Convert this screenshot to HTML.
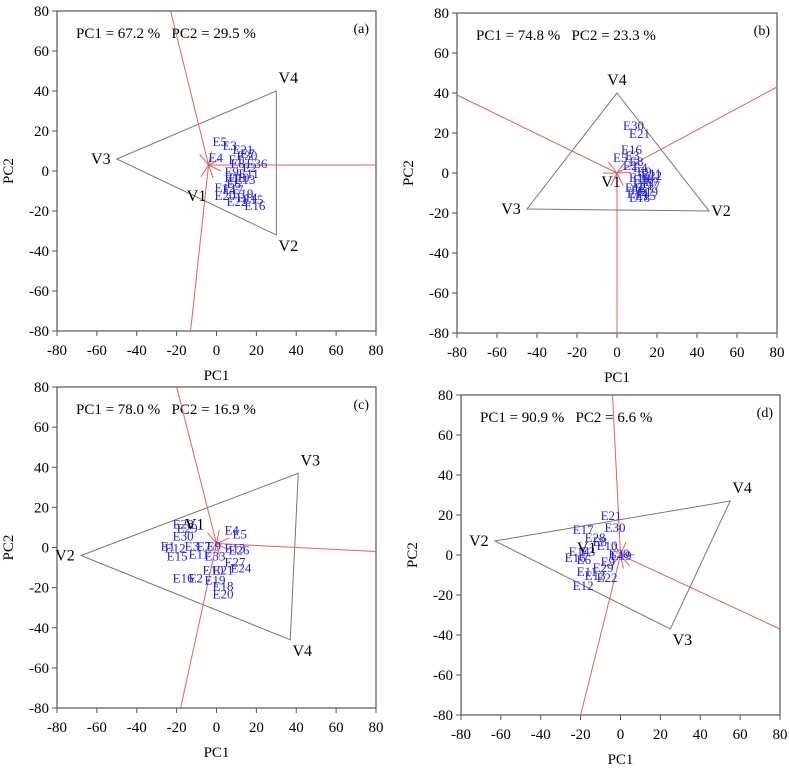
<!DOCTYPE html>
<html><head><meta charset="utf-8"><style>
body{margin:0;background:#fff;}
svg{display:block;font-family:"Liberation Serif",serif;}
</style></head><body>
<svg id="fig" width="789" height="770"></svg>
<script>
// panel frames (pixel geometry, not data)
const frames=[{x0:57,x1:376,y0:11,y1:331,tag:"(a)"},{x0:457,x1:777,y0:13,y1:333,tag:"(b)"},{x0:57,x1:376,y0:387,y1:708,tag:"(c)"},{x0:461,x1:780,y0:395,y1:715,tag:"(d)"}];
const ticks=[-80,-60,-40,-20,0,20,40,60,80];
const varianceText=["PC1 = 67.2 %   PC2 = 29.5 %","PC1 = 74.8 %   PC2 = 23.3 %","PC1 = 78.0 %   PC2 = 16.9 %","PC1 = 90.9 %   PC2 = 6.6 %"];
// vertices of polygons (PC1, PC2)
const polyX=[[-50,30,30],[0,46,-45],[41,37,-68],[55,25,-63]];
const polyY=[[6,40,-32],[40,-19,-18],[37,-46,-4],[27,-37,7]];
const polyNames=[["V3","V4","V2"],["V4","V2","V3"],["V3","V4","V2"],["V4","V3","V2"]];
const v1X=[-10,-3,-11,-17];
const v1Y=[-12,-4,12,4];
// rays: center then endpoints
const centerX=[-4,0,0,0];
const centerY=[3,0,2,0];
const rayX=[[-23,80,-13],[-80,80,0],[-20,80,-18],[-4,80,-20]];
const rayY=[[80,3,-80],[39,43,-80],[80,-2,-80],[80,-37,-80]];
// genotype labels
const genNames=[
["E5","E3","E21","E30","E4","E7","E1","E36","E8","E2","E9","E11","E10","E13","E6","E12","E17","E19","E20","E14","E15","E22","E16","E18"],
["E30","E21","E16","E3","E5","E8","E2","E4","E9","E11","E10","E7","E13","E17","E12","E6","E14","E15","E18","E19","E20","E22"],
["E28","E29","E30","E1","E3","E7","E9","E12","E15","E11","E33","E4","E5","E13","E26","E27","E24","E21","E10","E16","E2","E19","E18","E20"],
["E21","E17","E30","E28","E8","E10","E14","E3","E20","E19","E16","E6","E9","E29","E11","E13","E22","E12"]];
const genX=[
[-2,3,8,10,-4,12,6,15,7,13,4,11,6,9,5,-1,3,8,-1,10,13,5,14,4],
[3,6,2,4,-2,6,3,8,10,12,6,14,8,11,4,7,5,9,6,10,8,12],
[-22,-20,-22,-28,-16,-10,-5,-26,-25,-14,-6,4,8,4,6,4,7,-2,-7,-22,-14,-6,-2,-2],
[-10,-24,-8,-18,-14,-12,-26,-20,-6,-5,-28,-22,-10,-14,-22,-18,-12,-24]];
const genY=[
[15,13,11,8,7,9,6,4,4,2,0,-1,-3,-4,-6,-8,-9,-11,-12,-13,-14,-15,-17,-3],
[24,20,12,9,8,6,4,3,1,0,-2,-4,-5,-6,-7,-8,-10,-11,-12,-9,-3,-1],
[12,10,6,1,1,1,1,0,-4,-3,-4,9,7,0,-1,-7,-10,-11,-11,-15,-15,-16,-19,-23],
[20,13,14,9,7,5,2,2,1,0,-1,-2,-3,-6,-8,-10,-11,-15]];

const NS="http://www.w3.org/2000/svg";
const svg=document.getElementById('fig');
function mk(tag,attrs,parent){const e=document.createElementNS(NS,tag);for(const k in attrs)e.setAttribute(k,attrs[k]);(parent||svg).appendChild(e);return e;}
frames.forEach((f,p)=>{
  const sx=v=>f.x0+(v+80)/160*(f.x1-f.x0);
  const sy=v=>f.y1-(v+80)/160*(f.y1-f.y0);
  const g=mk('g',{});
  
  
  const fr=mk('rect',{x:f.x0,y:f.y0,width:f.x1-f.x0,height:f.y1-f.y0,fill:'none',stroke:'#555','stroke-width':1.2},g);
  
  
  ticks.forEach(t=>{
    mk('line',{x1:sx(t),x2:sx(t),y1:f.y1,y2:f.y1+5,stroke:'#555'},g);
    const tx=mk('text',{x:sx(t),y:f.y1+24,'text-anchor':'middle','font-size':15},g);tx.textContent=t;
    
    
    mk('line',{x1:f.x0-5,x2:f.x0,y1:sy(t),y2:sy(t),stroke:'#555'},g);
    const ty=mk('text',{x:f.x0-8,y:sy(t)+5,'text-anchor':'end','font-size':15},g);ty.textContent=t;
    
    
  });
  const xt=mk('text',{x:(f.x0+f.x1)/2,y:f.y1+49,'text-anchor':'middle','font-size':15},g);xt.textContent='PC1';
  
  
  const yx=f.x0-44, yy=(f.y0+f.y1)/2;
  const yt=mk('text',{x:yx,y:yy,'text-anchor':'middle','font-size':15,transform:`rotate(-90 ${yx} ${yy})`},g);yt.textContent='PC2';
  
  
  const vt=mk('text',{x:f.x0+19,y:f.y0+27,'font-size':15},g);vt.textContent=varianceText[p];vt.style.whiteSpace='pre';
  
  
  const tg=mk('text',{x:f.x1-7,y:f.y0+22,'text-anchor':'end','font-size':14},g);tg.textContent=f.tag;
  
  
  // polygon
  const pts=polyX[p].map((x,i)=>sx(x)+','+sy(polyY[p][i])).join(' ');
  const pg=mk('polygon',{points:pts,fill:'none',stroke:'#777','stroke-width':1},g);
  
  
  // rays
  const cx=sx(centerX[p]),cy=sy(centerY[p]);
  rayX[p].forEach((x,i)=>{
    const ex=sx(x),ey=sy(rayY[p][i]);
    const l=mk('line',{x1:ex,y1:ey,x2:cx,y2:cy,stroke:'#e06060','stroke-width':1},g);
    
    
    const a=Math.atan2(cy-ey,cx-ex);
    [0.45,-0.45].forEach(d=>{
      mk('line',{x1:cx,y1:cy,x2:cx-14*Math.cos(a+d),y2:cy-14*Math.sin(a+d),stroke:'#e06060','stroke-width':1},g);
    });
  });
  // genotypes
  genNames[p].forEach((n,i)=>{
    const t=mk('text',{x:sx(genX[p][i]),y:sy(genY[p][i])+5,'font-size':13,fill:'#2222ee'},g);t.textContent=n;
    
    
  });
  // vertex labels
  polyNames[p].forEach((n,i)=>{
    const x=polyX[p][i],y=polyY[p][i];
    const dx=x<-20?-16:(x>20?12:0), dy=y>20?-8:(y<-20?16:5);
    const t=mk('text',{x:sx(x)+dx,y:sy(y)+dy,'text-anchor':'middle','font-size':16},g);t.textContent=n;
    
    
  });
  const v1=mk('text',{x:sx(v1X[p]),y:sy(v1Y[p])+6,'text-anchor':'middle','font-size':16},g);v1.textContent='V1';
  
  
});
</script>
</body></html>
